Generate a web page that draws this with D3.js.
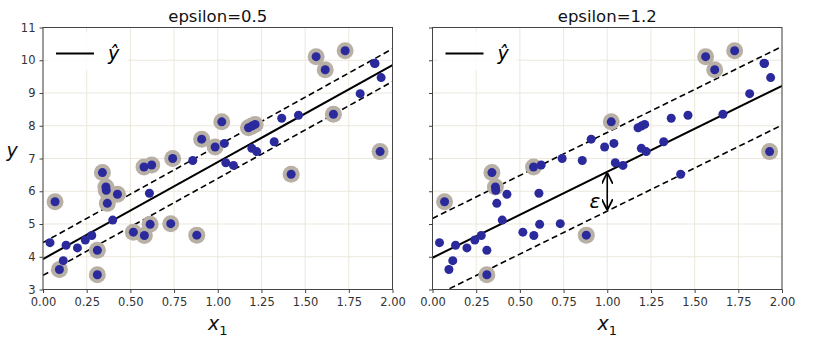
<!DOCTYPE html>
<html>
<head>
<meta charset="utf-8">
<script src="https://cdn.jsdelivr.net/npm/d3@7"></script>
<style>
  body { margin: 0; background: #ffffff; }
  svg text { font-family: "DejaVu Sans", sans-serif; }
</style>
</head>
<body>
<svg id="chart" width="817" height="340"></svg>
<script>
// ---- data ----
const xValues = [0.04,0.069,0.094,0.116,0.132,0.197,0.242,0.279,0.311,0.311,0.34,0.36,0.362,0.368,0.399,0.426,0.517,0.58,0.578,0.622,0.609,0.613,0.731,0.742,0.857,0.88,0.908,0.985,1.023,1.038,1.046,1.09,1.176,1.195,1.214,1.195,1.223,1.323,1.366,1.42,1.462,1.563,1.615,1.662,1.729,1.815,1.897,1.90,1.935,1.929];
const yValues = [4.43,5.68,3.61,3.88,4.35,4.27,4.51,4.65,4.20,3.45,6.57,6.13,6.03,5.63,5.12,5.91,4.75,4.65,6.74,6.80,5.94,4.99,5.01,7.0,6.94,4.66,7.59,7.35,8.12,7.46,6.87,6.79,7.94,7.99,8.04,7.31,7.21,7.51,8.23,6.52,8.32,10.11,9.71,8.35,10.29,8.98,9.91,9.90,9.47,7.21];
const panelTitles = ["epsilon=0.5", "epsilon=1.2"];
const epsilons = [0.5, 1.2];
const intercepts = [3.93, 3.97];
const slopes = [2.96, 2.625];
const supportLeft = [1,2,8,9,10,11,12,13,15,16,17,18,19,21,22,23,25,26,27,28,32,33,34,39,41,42,43,44,49];
const supportRight = [1,9,10,11,18,25,28,41,42,44,49];
const xTicks = [0, 0.25, 0.5, 0.75, 1.0, 1.25, 1.5, 1.75, 2.0];
const yTicks = [3, 4, 5, 6, 7, 8, 9, 10, 11];

(function () {
const svg = d3.select("#chart");
const panels = [
  {left: 43, right: 392.5, support: supportLeft, yLabels: true, arrow: false},
  {left: 432.5, right: 782, support: supportRight, yLabels: false, arrow: true}
];
const plotTop = 27.5, plotBottom = 289.5;
const dotColor = "#2b2a9c", haloColor = "#b8b0a4", gridColor = "#ebe7dc", axisColor = "#444";

svg.append("defs").append("marker")
  .attr("id", "ah").attr("viewBox", "0 0 10 10").attr("refX", 9).attr("refY", 5)
  .attr("markerWidth", 7).attr("markerHeight", 7).attr("orient", "auto-start-reverse")
  .append("path").attr("d", "M0,0 L10,5 L0,10").attr("fill", "none").attr("stroke", "#000").attr("stroke-width", 1.6);

panels.forEach((p, i) => {
  const x = d3.scaleLinear().domain([0, 2]).range([p.left, p.right]);
  const y = d3.scaleLinear().domain([3, 11]).range([plotBottom, plotTop]);
  const g = svg.append("g");
  const clipId = "clip" + i;
  svg.append("clipPath").attr("id", clipId).append("rect")
    .attr("x", p.left).attr("y", plotTop).attr("width", p.right - p.left).attr("height", plotBottom - plotTop);

  // grid
  g.selectAll(".gx").data(xTicks).enter().append("line")
    .attr("x1", d => x(d)).attr("x2", d => x(d)).attr("y1", plotTop).attr("y2", plotBottom)
    .attr("stroke", gridColor).attr("stroke-width", 1);
  g.selectAll(".gy").data(yTicks).enter().append("line")
    .attr("x1", p.left).attr("x2", p.right).attr("y1", d => y(d)).attr("y2", d => y(d))
    .attr("stroke", gridColor).attr("stroke-width", 1);

  // axes
  const xAxis = d3.axisBottom(x).tickValues(xTicks).tickFormat(d3.format(".2f")).tickSizeOuter(0).tickSize(3.5).tickPadding(5);
  const yAxis = d3.axisLeft(y).tickValues(yTicks).tickSizeOuter(0).tickSize(3.5).tickPadding(4)
    .tickFormat(p.yLabels ? d3.format("d") : () => "");
  const gx = g.append("g").attr("transform", `translate(0,${plotBottom})`).call(xAxis);
  const gy = g.append("g").attr("transform", `translate(${p.left},0)`).call(yAxis);
  [gx, gy].forEach(a => {
    a.select(".domain").remove();
    a.selectAll("line").attr("stroke", axisColor);
    a.selectAll("text").attr("fill", "#333").style("font-size", "11.5px");
  });

  const plot = g.append("g").attr("clip-path", `url(#${clipId})`);
  // regression lines
  const lineFn = (off) => [[0, intercepts[i] + off], [2, slopes[i] * 2 + intercepts[i] + off]];
  const line = d3.line().x(d => x(d[0])).y(d => y(d[1]));
  plot.append("path").attr("d", line(lineFn(0))).attr("stroke", "#000").attr("stroke-width", 2).attr("fill", "none");
  [epsilons[i], -epsilons[i]].forEach(off => {
    plot.append("path").attr("d", line(lineFn(off))).attr("stroke", "#000").attr("stroke-width", 1.6)
      .attr("stroke-dasharray", "6,3.5").attr("fill", "none");
  });

  // support vector halos
  plot.selectAll(".halo").data(p.support).enter().append("circle")
    .attr("cx", d => x(xValues[d])).attr("cy", d => y(yValues[d])).attr("r", 8.5)
    .attr("fill", haloColor);
  // points
  plot.selectAll(".pt").data(xValues).enter().append("circle")
    .attr("cx", d => x(d)).attr("cy", (d, k) => y(yValues[k])).attr("r", 4.5)
    .attr("fill", dotColor);

  // frame
  g.append("rect").attr("x", p.left).attr("y", plotTop).attr("width", p.right - p.left).attr("height", plotBottom - plotTop)
    .attr("fill", "none").attr("stroke", axisColor).attr("stroke-width", 1);

  // legend
  const lg = g.append("g");
  lg.append("rect").attr("x", p.left + 5).attr("y", plotTop + 5).attr("width", 80).attr("height", 38)
    .attr("fill", "#fff").attr("fill-opacity", 0.85).attr("rx", 3);
  lg.append("line").attr("x1", p.left + 13).attr("x2", p.left + 51).attr("y1", plotTop + 26).attr("y2", plotTop + 26)
    .attr("stroke", "#000").attr("stroke-width", 2);
  lg.append("text").attr("x", p.left + 65).attr("y", plotTop + 32).text("ŷ")
    .style("font-size", "19px").style("font-style", "italic").attr("fill", "#000");

  // title
  g.append("text").attr("x", (p.left + p.right) / 2).attr("y", 22).attr("text-anchor", "middle")
    .style("font-size", "16.5px").attr("fill", "#111").text(panelTitles[i]);
  // x label
  const xl = g.append("text").attr("x", (p.left + p.right) / 2).attr("y", 330).attr("text-anchor", "middle")
    .style("font-size", "19px").style("font-style", "italic").attr("fill", "#111");
  xl.append("tspan").text("x");
  xl.append("tspan").attr("dy", 5).style("font-size", "13px").style("font-style", "normal").text("1");
  if (p.yLabels) {
    g.append("text").attr("x", 12).attr("y", 157).attr("text-anchor", "middle")
      .style("font-size", "19px").style("font-style", "italic").attr("fill", "#111").text("y");
  }
  if (p.arrow) {
    const yTopArrow = intercepts[i] + slopes[i] * 1;
    g.append("line").attr("x1", x(1)).attr("x2", x(1))
      .attr("y1", y(yTopArrow) + 2).attr("y2", y(yTopArrow - epsilons[i]) - 2)
      .attr("stroke", "#000").attr("stroke-width", 1.6)
      .attr("marker-start", "url(#ah)").attr("marker-end", "url(#ah)");
    g.append("text").attr("x", x(0.93)).attr("y", y(yTopArrow - epsilons[i] + 0.1))
      .attr("text-anchor", "middle").style("font-size", "20px").style("font-style", "italic")
      .attr("fill", "#000").text("ε");
  }
});
})();
</script>
</body>
</html>
